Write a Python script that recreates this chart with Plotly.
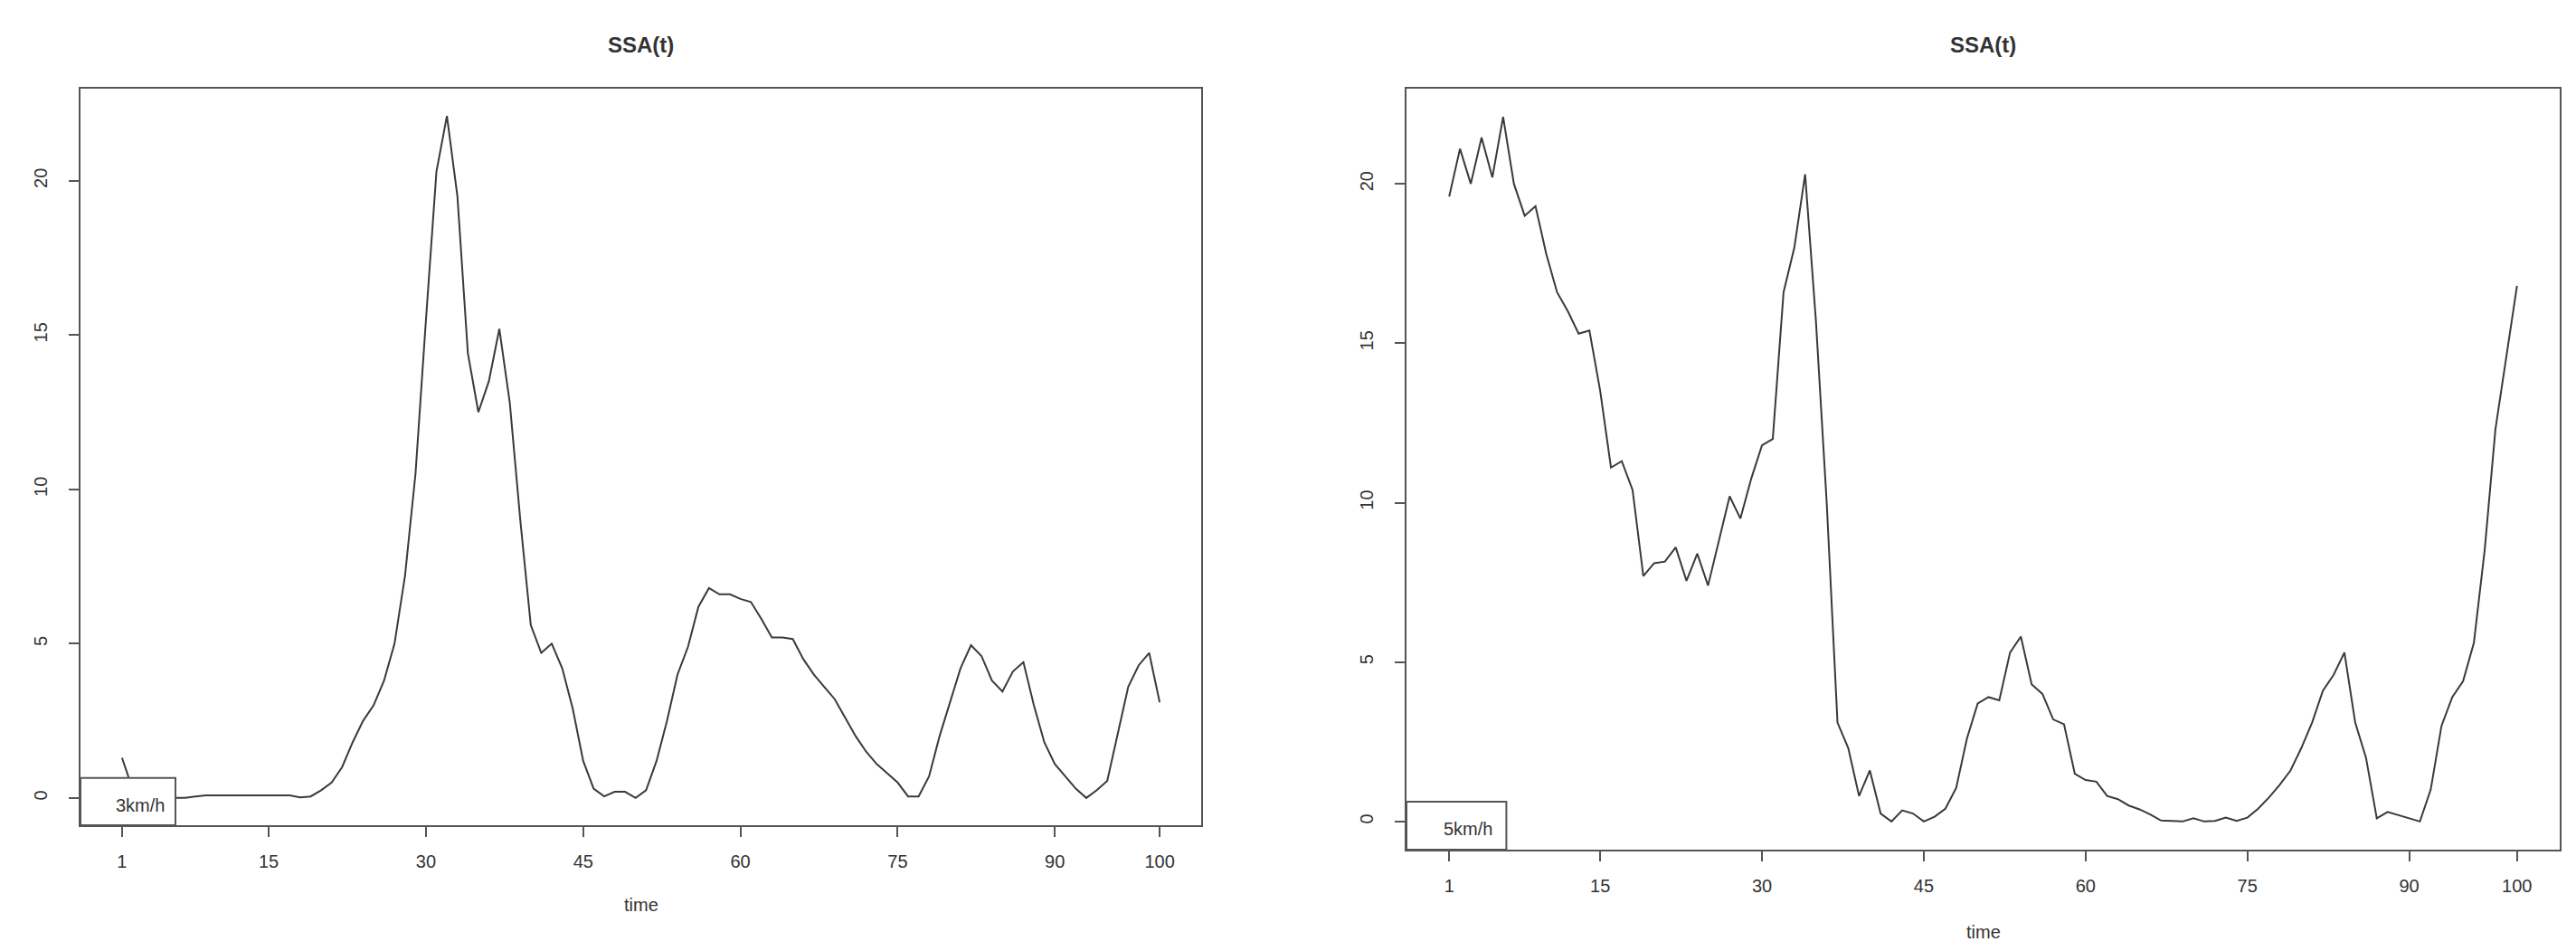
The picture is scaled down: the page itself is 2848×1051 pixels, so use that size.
import plotly.graph_objects as go

# Data
time = list(range(1, 101))

ssa_3kmh = [
    1.3, 0.3, 0.05, 0.0, 0.0, 0.0, 0.0, 0.05, 0.08, 0.08,
    0.08, 0.08, 0.08, 0.08, 0.08, 0.08, 0.08, 0.02, 0.05, 0.25,
    0.5, 1.0, 1.8, 2.5, 3.0, 3.8, 5.0, 7.2, 10.5, 15.5,
    20.3, 22.1, 19.5, 14.4, 12.5, 13.5, 15.2, 12.8, 9.0, 5.6,
    4.7, 5.0, 4.2, 2.9, 1.2, 0.3, 0.05, 0.2, 0.2, 0.0,
    0.25, 1.2, 2.5, 4.0, 4.9, 6.2, 6.8, 6.6, 6.6, 6.45,
    6.35, 5.8, 5.2, 5.2, 5.15, 4.5, 4.0, 3.6, 3.2, 2.6,
    2.0, 1.5, 1.1, 0.8, 0.5, 0.05, 0.05, 0.7, 2.0, 3.1,
    4.2, 4.95, 4.6, 3.8, 3.45, 4.1, 4.4, 3.0, 1.8, 1.1,
    0.7, 0.3, 0.0, 0.25, 0.55, 2.1, 3.6, 4.3, 4.7, 3.1,
]

ssa_5kmh = [
    19.6, 21.1, 20.0, 21.45, 20.2, 22.1, 20.0, 19.0, 19.3, 17.8,
    16.6, 16.0, 15.3, 15.4, 13.5, 11.1, 11.3, 10.4, 7.7, 8.1,
    8.15, 8.6, 7.55, 8.4, 7.4, 8.8, 10.2, 9.5, 10.75, 11.8,
    12.0, 16.6, 18.0, 20.3, 15.7, 10.0, 3.1, 2.3, 0.8, 1.6,
    0.25, 0.0, 0.35, 0.25, 0.0, 0.15, 0.4, 1.05, 2.6, 3.7,
    3.9, 3.8, 5.3, 5.8, 4.3, 4.0, 3.2, 3.05, 1.5, 1.3,
    1.25, 0.8, 0.7, 0.5, 0.38, 0.22, 0.03, 0.02, 0.0, 0.1,
    0.0, 0.02, 0.12, 0.02, 0.12, 0.4, 0.75, 1.15, 1.6, 2.3,
    3.1, 4.1, 4.6, 5.3, 3.1, 2.0, 0.1, 0.3, 0.2, 0.12,
    0.0, 1.0, 3.0, 3.9, 4.4, 5.6, 8.5, 12.3, 14.6, 16.8,
]

x_ticks = [1, 15, 30, 45, 60, 75, 90, 100]
y_ticks = [0, 5, 10, 15, 20]
panel_titles = ["SSA(t)", "SSA(t)"]
legend_labels = ["3km/h", "5km/h"]
x_label = "time"

W, H = 2848, 1051
FONT = "Arial, Liberation Sans, sans-serif"
INK = "#333333"
FRAME = "#555555"


def r_range(values):
    # R's default 4% padding on each side
    lo, hi = min(values), max(values)
    pad = 0.04 * (hi - lo)
    return [lo - pad, hi + pad]


x_range = r_range(time)

# panel boxes in pixels: (left, right, top, bottom)
panels = [(81, 1320, 90, 904), (1547, 2822, 90, 931)]
series = [ssa_3kmh, ssa_5kmh]
label_y = [992, 1022]
legend_right = [6.1, 6.3]
legend_top = [0.645, 0.62]

fig = go.Figure()
layout = dict(
    width=W,
    height=H,
    margin=dict(l=0, r=0, t=0, b=0),
    paper_bgcolor="white",
    plot_bgcolor="white",
    showlegend=False,
    font=dict(family=FONT, size=20, color=INK),
    shapes=[],
    annotations=[],
)

for i, (vals, (pl, pr, pt, pb)) in enumerate(zip(series, panels)):
    n = "" if i == 0 else str(i + 1)
    y_range = r_range(vals)
    fig.add_trace(
        go.Scatter(
            x=time,
            y=vals,
            mode="lines",
            line=dict(color="#3a3a3a", width=2),
            xaxis="x" + n,
            yaxis="y" + n,
        )
    )
    axis_common = dict(
        showline=True,
        mirror=True,
        linecolor=FRAME,
        linewidth=2,
        showgrid=False,
        zeroline=False,
        ticks="outside",
        ticklen=11,
        tickwidth=2,
        tickcolor=FRAME,
        tickfont=dict(family=FONT, size=20, color=INK),
    )
    layout["xaxis" + n] = dict(
        axis_common,
        domain=[pl / W, pr / W],
        range=x_range,
        tickvals=x_ticks,
        ticklabelstandoff=10,
        anchor="y" + n,
    )
    layout["yaxis" + n] = dict(
        axis_common,
        domain=[1 - pb / H, 1 - pt / H],
        range=y_range,
        tickvals=y_ticks,
        tickangle=-90,
        ticklabelstandoff=16,
        anchor="x" + n,
    )
    # legend box in the bottom-left corner
    layout["shapes"].append(
        dict(
            type="rect",
            xref="x" + n,
            yref="y" + n,
            x0=x_range[0],
            x1=legend_right[i],
            y0=y_range[0],
            y1=legend_top[i],
            line=dict(color=FRAME, width=2),
            fillcolor="white",
            layer="above",
        )
    )
    cx = (pl + pr) / 2 / W
    layout["annotations"] += [
        dict(
            text=legend_labels[i],
            xref="x" + n,
            yref="y" + n,
            x=2.75,
            y=-0.23,
            xanchor="center",
            yanchor="middle",
            showarrow=False,
            font=dict(size=20, color=INK),
        ),
        dict(
            text="<b>" + panel_titles[i] + "</b>",
            xref="paper",
            yref="paper",
            x=cx,
            y=1 - 41.5 / H,
            xanchor="center",
            yanchor="middle",
            showarrow=False,
            font=dict(size=24, color=INK),
        ),
        dict(
            text=x_label,
            xref="paper",
            yref="paper",
            x=cx,
            y=1 - label_y[i] / H,
            xanchor="center",
            yanchor="middle",
            showarrow=False,
            font=dict(size=20, color=INK),
        ),
    ]

fig.update_layout(**layout)
fig.write_html("out.html")
